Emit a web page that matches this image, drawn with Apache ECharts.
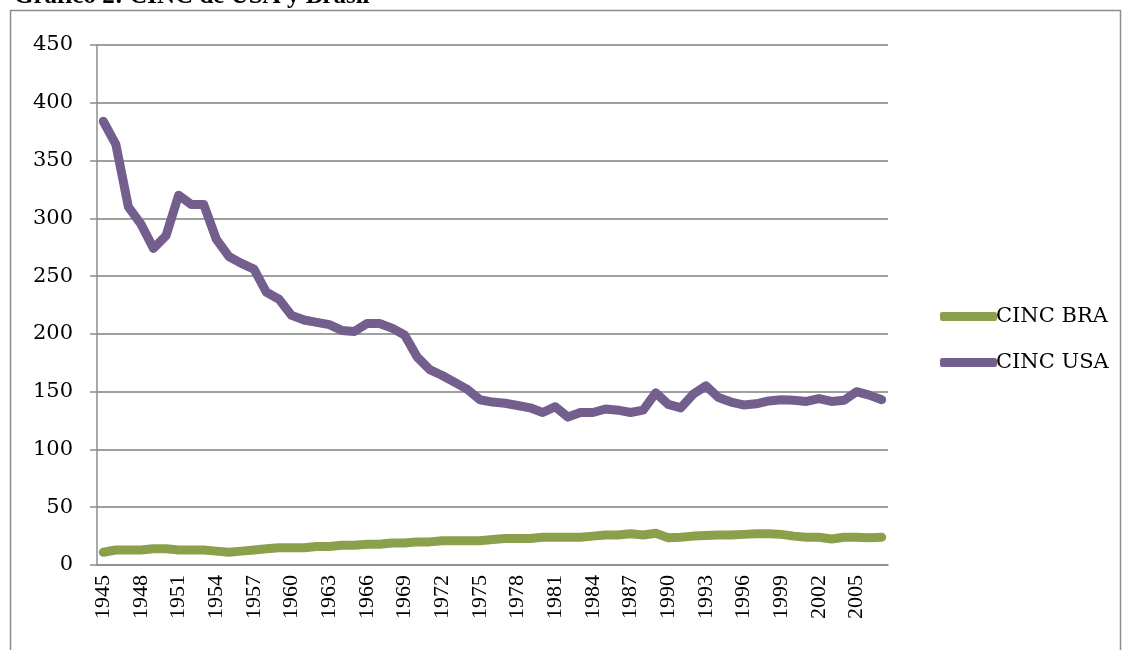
<!DOCTYPE html>
<html>
<head>
<meta charset="utf-8">
<script src="https://cdn.jsdelivr.net/npm/echarts@6/dist/echarts.min.js"></script>
<style>
  html, body { margin: 0; padding: 0; background: #fff; }
  #chart { width: 1132px; height: 650px; }
</style>
</head>
<body>
<div id="chart"></div>
<script>
// años 1945-2007
var years = [];
for (var y = 1945; y <= 2007; y++) years.push(String(y));

var cincBra = [11, 13, 13, 13, 14, 14, 13, 13, 13, 12,
               11, 12, 13, 14, 15, 15, 15, 16, 16, 17,
               17, 18, 18, 19, 19, 20, 20, 21, 21, 21,
               21, 22, 23, 23, 23, 24, 24, 24, 24, 25,
               26, 26, 27, 26, 27.5, 23.5, 24, 25, 25.5, 26,
               26, 26.5, 27, 27, 26.5, 25, 24, 24, 22.5, 24,
               24, 23.5, 24];

var cincUsa = [384, 364, 310, 295, 274, 285, 320, 312, 312, 282,
               267, 261, 256, 236, 230, 216, 212, 210, 208, 203,
               202, 209, 209, 205, 199, 180, 169, 164, 158, 152,
               143, 141, 140, 138, 136, 132, 137, 128, 132, 132,
               135, 134, 132, 134, 149, 139, 136, 148, 155, 145,
               141, 138.5, 139.5, 142, 143, 142.5, 141.5, 144, 141.5, 142.5,
               150, 147, 143];

var yTicks = { min: 0, max: 450, interval: 50 };

var serif = 'DejaVu Serif';
var chart = echarts.init(document.getElementById('chart'));
var option = {
  animation: false,
  backgroundColor: '#fff',
  graphic: [{
    type: 'rect',
    shape: { x: 10.5, y: 10.5, width: 1110, height: 700 },
    style: { fill: 'none', stroke: '#8c8c8c', lineWidth: 1.5 }
  }],
  title: {
    text: 'Gráfico 2: CINC de USA y Brasil',
    left: 14, top: -16,
    padding: 0,
    textStyle: { fontFamily: 'Liberation Serif', fontWeight: 'bold', fontSize: 25, color: '#000' }
  },
  grid: { left: 97, right: 244, top: 45, bottom: 85 },
  legend: {
    orient: 'vertical',
    left: 935, top: 301,
    itemWidth: 57, itemHeight: 9,
    itemGap: 25,
    icon: 'roundRect',
    data: ['CINC BRA', 'CINC USA'],
    textStyle: { fontFamily: serif, fontSize: 21, color: '#000', padding: [0, 0, 0, -6] }
  },
  xAxis: {
    type: 'category',
    data: years,
    boundaryGap: true,
    axisLine: { lineStyle: { color: '#8c8c8c', width: 1.5 } },
    axisTick: { interval: 0, length: 8, lineStyle: { color: '#8c8c8c', width: 1.5 } },
    axisLabel: {
      interval: 2, rotate: 90, margin: 10,
      fontFamily: 'Liberation Serif', fontSize: 22, color: '#000'
    },
    splitLine: { show: false }
  },
  yAxis: {
    type: 'value',
    min: yTicks.min, max: yTicks.max, interval: yTicks.interval,
    axisLine: { show: true, lineStyle: { color: '#8c8c8c', width: 1.5 } },
    axisTick: { show: true, length: 7, lineStyle: { color: '#8c8c8c', width: 1.5 } },
    axisLabel: { margin: 24, fontFamily: serif, fontSize: 21, color: '#000' },
    splitLine: { lineStyle: { color: '#a0a0a0', width: 2 } }
  },
  series: [{
    name: 'CINC BRA',
    type: 'line',
    data: cincBra,
    showSymbol: false,
    symbol: 'none',
    color: '#8aa04b',
    lineStyle: { width: 9, cap: 'round', join: 'round', color: '#8aa04b' }
  }, {
    name: 'CINC USA',
    type: 'line',
    data: cincUsa,
    showSymbol: false,
    symbol: 'none',
    color: '#735e8d',
    lineStyle: { width: 9, cap: 'round', join: 'round', color: '#735e8d' }
  }]
};
chart.setOption(option);
// segunda pasada: las etiquetas giradas sólo se colocan bien tras relayout
chart.setOption({ xAxis: { axisLabel: { rotate: 90 } } });
</script>
</body>
</html>
